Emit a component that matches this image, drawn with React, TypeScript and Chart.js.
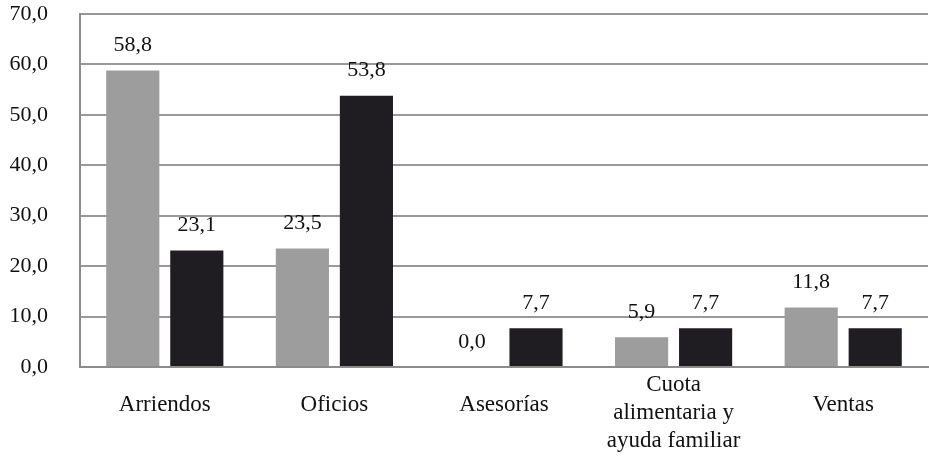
import React, { useEffect, useRef } from "react";
import { Chart, registerables } from "chart.js";

Chart.register(...registerables);

const categories: (string | string[])[] = [
  "Arriendos",
  "Oficios",
  "Asesorías",
  ["Cuota", "alimentaria y", "ayuda familiar"],
  "Ventas",
];
const serie1 = [58.8, 23.5, 0.0, 5.9, 11.8];
const serie2 = [23.1, 53.8, 7.7, 7.7, 7.7];
const yTicks = [0, 10, 20, 30, 40, 50, 60, 70];

const FONT = "'Liberation Serif', serif";
const fmt = (v: number) => v.toFixed(1).replace(".", ",");

const dataLabels = {
  id: "dataLabels",
  afterDatasetsDraw(chart: any) {
    const ctx = chart.ctx;
    ctx.save();
    ctx.font = `22px ${FONT}`;
    ctx.fillStyle = "#111";
    ctx.textAlign = "center";
    ctx.textBaseline = "middle";
    chart.data.datasets.forEach((ds: any, i: number) => {
      const meta = chart.getDatasetMeta(i);
      meta.data.forEach((el: any, j: number) => {
        ctx.fillText(fmt(ds.data[j]), el.x, el.y - 25);
      });
    });
    ctx.restore();
  },
};

const xLabels = {
  id: "xLabels",
  afterDraw(chart: any) {
    const ctx = chart.ctx;
    const xs = chart.scales.x;
    const base = chart.chartArea.bottom;
    ctx.save();
    ctx.font = `23px ${FONT}`;
    ctx.fillStyle = "#111";
    ctx.textAlign = "center";
    ctx.textBaseline = "middle";
    categories.forEach((lab, i) => {
      const x = xs.getPixelForValue(i);
      if (Array.isArray(lab)) {
        lab.forEach((line, k) => ctx.fillText(line, x, base + 18 + k * 28));
      } else {
        ctx.fillText(lab, x, base + 38);
      }
    });
    ctx.restore();
  },
};

export default function App() {
  const ref = useRef<HTMLCanvasElement>(null);
  useEffect(() => {
    if (!ref.current) return;
    const chart = new Chart(ref.current, {
      type: "bar",
      data: {
        labels: categories.map((c) => (Array.isArray(c) ? c.join(" ") : c)),
        datasets: [
          { label: "Serie 1", data: serie1, backgroundColor: "#9d9d9e", categoryPercentage: 0.755, barPercentage: 0.83 },
          { label: "Serie 2", data: serie2, backgroundColor: "#1f1d21", categoryPercentage: 0.755, barPercentage: 0.83 },
        ],
      },
      options: {
        animation: false,
        responsive: false,
        maintainAspectRatio: false,
        layout: { padding: { top: 0, right: 1, bottom: 0, left: 0 } },
        plugins: {
          legend: { display: false },
          tooltip: { enabled: false },
        },
        scales: {
          x: {
            afterFit: (s: any) => { s.height = 92; s.paddingTop = 0; s.paddingBottom = 0; s.paddingLeft = 0; s.paddingRight = 0; },
            grid: { display: false, drawTicks: false },
            border: { display: true, color: "#8c8c8c", width: 2 },
            ticks: {
              display: false,
              maxRotation: 0,
              autoSkip: false,
            },
          },
          y: {
            min: 0,
            max: 70,
            afterFit: (s: any) => { s.width = 80; s.paddingTop = 14; s.paddingBottom = 0; },
            afterBuildTicks: (s: any) => { s.ticks = yTicks.map((v) => ({ value: v })); },
            grid: { color: "#999", lineWidth: 2, drawTicks: false },
            border: { display: true, color: "#8c8c8c", width: 2 },
            ticks: {
              color: "#111",
              font: { family: FONT, size: 22 },
              padding: 32,
              callback: (v: any) => fmt(Number(v)),
            },
          },
        },
      },
      plugins: [dataLabels, xLabels],
    });
    return () => chart.destroy();
  }, []);
  return (
    <div style={{ position: "fixed", left: 0, top: 0, width: 929, height: 459, background: "#fff" }}>
      <canvas ref={ref} width={929} height={459} style={{ width: 929, height: 459 }} />
    </div>
  );
}
